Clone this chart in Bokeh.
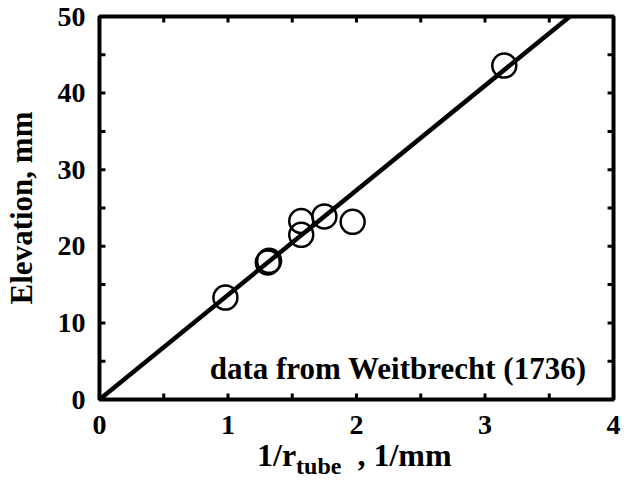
from bokeh.plotting import figure
from bokeh.layouts import column
from bokeh.models import FixedTicker, Label, Div
from bokeh.embed import file_html
from bokeh.resources import INLINE

# data
inv_radius = [0.98, 1.31, 1.32, 1.57, 1.57, 1.75, 1.97, 3.15]
elevation = [13.3, 17.9, 18.1, 21.5, 23.3, 23.9, 23.2, 43.6]
slope = 13.66
fit_x = [0.0, 50.0 / slope]
fit_y = [0.0, 50.0]

x_ticks = [0, 1, 2, 3, 4]
x_minor = [0.5, 1.5, 2.5, 3.5]
y_ticks = [0, 10, 20, 30, 40, 50]
y_minor = [5, 15, 25, 35, 45]

note_text = "data from Weitbrecht (1736)"
y_label = "Elevation, mm"
x_label_main = "1/r"
x_label_sub = "tube"
x_label_unit = ", 1/mm"

FONT = "Liberation Serif"
XMIN, XMAX, YMIN, YMAX = 0, 4, 0, 50
W = 628
P_H = 440
PAD = 4
BOX_L, BOX_R, BOX_T, BOX_B = 96, 613, 16, 399
BL, BR, BT = BOX_L - PAD, W - BOX_R - PAD, BOX_T - PAD
BB = P_H - BOX_B - PAD
BOX_W = BOX_R - BOX_L
BOX_H = BOX_B - BOX_T
px_x = (XMAX - XMIN) / BOX_W
px_y = (YMAX - YMIN) / BOX_H
TICK_PX = 6

p = figure(width=W, height=P_H, title=None,
           x_range=(XMIN - PAD * px_x, XMAX + PAD * px_x),
           y_range=(YMIN - PAD * px_y, YMAX + PAD * px_y),
           output_backend="svg", toolbar_location=None,
           min_border_left=BL, min_border_right=BR, min_border_top=BT, min_border_bottom=BB)
p.xgrid.visible = False
p.ygrid.visible = False
p.outline_line_color = None
p.background_fill_color = "white"
p.border_fill_color = "white"

for ax, ticks in ((p.xaxis[0], x_ticks), (p.yaxis[0], y_ticks)):
    ax.ticker = FixedTicker(ticks=ticks, minor_ticks=[])
    ax.axis_line_color = None
    ax.major_tick_line_color = None
    ax.minor_tick_line_color = None
    ax.major_label_text_font = FONT
    ax.major_label_text_font_style = "bold"
    ax.major_label_text_font_size = "28px"
    ax.major_label_text_color = "black"
p.xaxis[0].major_label_standoff = 6
p.yaxis[0].major_label_standoff = 4

p.yaxis[0].axis_label = y_label
p.yaxis[0].axis_label_text_font = FONT
p.yaxis[0].axis_label_text_font_style = "bold"
p.yaxis[0].axis_label_text_font_size = "31px"
p.yaxis[0].axis_label_text_color = "black"
p.yaxis[0].axis_label_standoff = 16

# plot box
p.quad(left=[XMIN], right=[XMAX], bottom=[YMIN], top=[YMAX],
       fill_color=None, line_color="black", line_width=4)

# inward tick marks on all four sides
all_x = sorted(x_ticks + x_minor)
all_y = sorted(y_ticks + y_minor)
dy = TICK_PX * px_y
dx = TICK_PX * px_x
tk = dict(line_color="black", line_width=3)
p.segment(x0=all_x, y0=[YMIN] * len(all_x), x1=all_x, y1=[YMIN + dy] * len(all_x), **tk)
p.segment(x0=all_x, y0=[YMAX] * len(all_x), x1=all_x, y1=[YMAX - dy] * len(all_x), **tk)
p.segment(x0=[XMIN] * len(all_y), y0=all_y, x1=[XMIN + dx] * len(all_y), y1=all_y, **tk)
p.segment(x0=[XMAX] * len(all_y), y0=all_y, x1=[XMAX - dx] * len(all_y), y1=all_y, **tk)

p.line(fit_x, fit_y, line_color="black", line_width=4.5)
p.scatter(inv_radius, elevation, marker="circle", size=24, fill_color=None,
          line_color="black", line_width=2.5)

p.add_layout(Label(x=3.79, y=4.1, text=note_text, text_align="right",
                   text_baseline="alphabetic", text_font=FONT, text_font_style="bold",
                   text_font_size="31px", text_color="black"))

label_html = (
    '<div style="font-family: \'Liberation Serif\'; font-weight: bold; font-size: 32px; '
    'line-height: 30px; color: black; white-space: nowrap; padding-left: 257px; margin-top: 0px;">'
    f'{x_label_main}<span style="font-size: 24px; vertical-align: -8px;">{x_label_sub}</span>'
    f'&nbsp;&nbsp;{x_label_unit}</div>'
)
xlab = Div(text=label_html, width=W, height=472 - P_H, margin=0)

layout = column(p, xlab, spacing=0)
open("out.html", "w").write(file_html(layout, INLINE))
